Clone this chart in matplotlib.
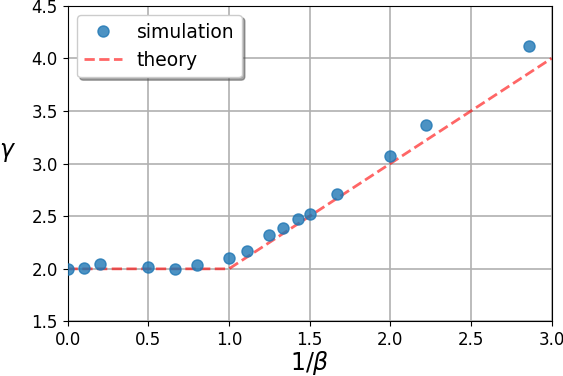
import matplotlib
matplotlib.use('Agg')
import matplotlib.pyplot as plt

inv_beta = [0.0, 0.1, 0.2, 0.5, 0.667, 0.8, 1.0, 1.111, 1.25, 1.333, 1.429, 1.5, 1.667, 2.0, 2.222, 2.857]
gamma_sim = [2.0, 2.01, 2.05, 2.02, 2.0, 2.04, 2.10, 2.17, 2.32, 2.39, 2.47, 2.52, 2.71, 3.07, 3.37, 4.12]

theory_x = [0.0, 1.0, 3.0]
theory_y = [2.0, 2.0, 4.0]

fig, ax = plt.subplots(figsize=(5.63, 3.76), dpi=100)
ax.plot(inv_beta, gamma_sim, 'o', color='tab:blue', alpha=0.8, markersize=8, label='simulation', zorder=3)
ax.plot(theory_x, theory_y, '--', color='red', alpha=0.6, linewidth=2, label='theory', zorder=2)
ax.set_xlim(0, 3)
ax.set_ylim(1.5, 4.5)
ax.grid(True, linewidth=1.2)
ax.tick_params(labelsize=12)
ax.set_xlabel(r'$1/\beta$', fontsize=17, labelpad=0)
ax.set_ylabel(r'$\gamma$', fontsize=17, rotation=0, labelpad=17)
ax.legend(loc='upper left', fontsize=13.5, shadow=True, fancybox=True)
fig.subplots_adjust(left=0.12, right=0.98, bottom=0.145, top=0.985)
fig.savefig('out.png')
